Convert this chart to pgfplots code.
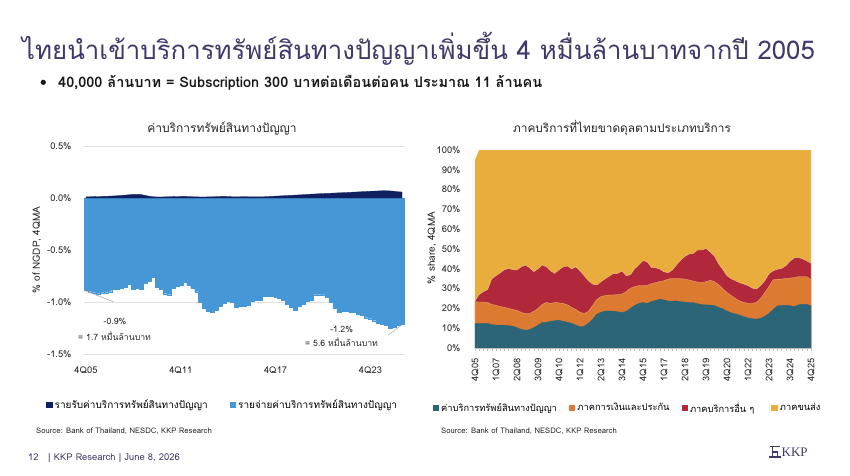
\documentclass[border=0pt]{standalone}
\usepackage{pgfplots}
\pgfplotsset{compat=1.18}
\usepackage{pgfplotstable}
\usepackage{fontspec}
\setmainfont[Script=Thai]{Loma}
\newfontfamily\kkpfont{Liberation Serif}
\definecolor{titlecol}{HTML}{403A68}
\definecolor{navy}{HTML}{0F1F5F}
\definecolor{lblue}{HTML}{4598D5}
\definecolor{cteal}{HTML}{2C6478}
\definecolor{corange}{HTML}{DD7A31}
\definecolor{cred}{HTML}{B0283A}
\definecolor{cyellow}{HTML}{E8AD3D}

\pgfplotstableread{
i pay rec
0 -0.885 0.012
1 -0.90 0.012
2 -0.91 0.013
3 -0.92 0.014
4 -0.91 0.015
5 -0.91 0.016
6 -0.90 0.018
7 -0.88 0.020
8 -0.875 0.022
9 -0.87 0.025
10 -0.86 0.028
11 -0.83 0.032
12 -0.88 0.035
13 -0.87 0.036
14 -0.88 0.033
15 -0.82 0.025
16 -0.80 0.017
17 -0.76 0.012
18 -0.86 0.010
19 -0.88 0.010
20 -0.92 0.011
21 -0.93 0.012
22 -0.87 0.013
23 -0.85 0.014
24 -0.84 0.015
25 -0.81 0.016
26 -0.84 0.014
27 -0.87 0.012
28 -0.90 0.011
29 -1.00 0.010
30 -1.06 0.010
31 -1.09 0.011
32 -1.10 0.012
33 -1.08 0.013
34 -1.04 0.015
35 -1.01 0.016
36 -0.99 0.014
37 -1.00 0.012
38 -1.05 0.011
39 -1.04 0.012
40 -1.04 0.013
41 -1.03 0.012
42 -0.99 0.011
43 -0.98 0.011
44 -0.98 0.012
45 -0.94 0.012
46 -0.94 0.014
47 -0.94 0.016
48 -0.95 0.018
49 -0.96 0.020
50 -0.98 0.022
51 -1.02 0.024
52 -1.05 0.026
53 -1.08 0.028
54 -1.04 0.030
55 -1.02 0.032
56 -0.99 0.035
57 -0.98 0.037
58 -0.93 0.039
59 -0.93 0.041
60 -0.93 0.043
61 -0.95 0.044
62 -1.00 0.046
63 -1.06 0.048
64 -1.10 0.050
65 -1.09 0.051
66 -1.09 0.053
67 -1.10 0.055
68 -1.10 0.057
69 -1.12 0.059
70 -1.13 0.061
71 -1.15 0.063
72 -1.16 0.065
73 -1.18 0.066
74 -1.20 0.068
75 -1.21 0.070
76 -1.22 0.070
77 -1.25 0.068
78 -1.24 0.065
79 -1.22 0.060
80 -1.21 0.058
}\ipdata

\pgfplotstableread{
i teal orange red top
0 12.5 23.4 23.8 95
1 12.5 23.2 27.0 100
2 12.4 23.2 28.5 100
3 12.4 23.0 29.5 100
4 11.8 22.0 35.0 100
5 11.6 21.5 36.5 100
6 11.6 21.0 38.0 100
7 11.5 20.5 39.5 100
8 11.3 20.0 40.2 100
9 11.0 19.5 39.5 100
10 10.3 19.0 39.4 100
11 9.4 18.0 41.0 100
12 9.0 17.3 41.9 100
13 9.3 17.5 40.5 100
14 10.3 18.5 38.6 100
15 11.5 20.0 40.0 100
16 13.0 22.0 41.9 100
17 13.0 23.0 41.0 100
18 13.5 22.5 39.0 100
19 13.8 23.0 37.7 100
20 14.0 22.8 39.5 100
21 13.5 22.5 41.0 100
22 13.0 21.8 41.4 100
23 12.5 20.5 40.0 100
24 11.5 19.5 41.0 100
25 10.8 18.0 39.0 100
26 11.0 17.4 36.5 100
27 12.5 18.5 34.0 100
28 14.5 21.5 32.3 100
29 17.0 24.5 31.8 100
30 18.0 26.0 33.5 100
31 18.7 26.5 35.0 100
32 18.7 26.8 36.3 100
33 18.6 26.8 37.7 100
34 18.3 27.0 37.7 100
35 17.9 27.3 38.9 100
36 18.5 28.5 36.5 100
37 20.0 30.2 37.0 100
38 21.5 31.0 40.0 100
39 22.5 31.5 42.0 100
40 23.0 31.6 44.1 100
41 22.5 31.6 43.5 100
42 23.5 32.5 40.7 100
43 24.0 33.0 40.5 100
44 24.7 33.6 39.9 100
45 24.3 34.0 38.5 100
46 23.7 34.8 38.0 100
47 23.7 35.2 39.4 100
48 23.8 35.2 42.0 100
49 23.4 35.0 44.5 100
50 23.2 34.8 46.3 100
51 23.0 34.3 47.5 100
52 22.9 33.8 47.8 100
53 22.4 33.3 49.5 100
54 21.9 33.1 49.5 100
55 21.8 33.5 50.3 100
56 21.7 34.2 48.5 100
57 21.5 33.5 46.5 100
58 20.5 32.0 42.5 100
59 19.8 30.0 39.7 100
60 18.6 28.0 36.5 100
61 17.8 26.5 35.0 100
62 17.2 25.0 34.0 100
63 16.6 23.8 33.0 100
64 15.9 23.0 32.3 100
65 15.2 22.6 31.5 100
66 14.8 22.6 30.3 100
67 14.6 23.0 29.8 100
68 15.0 25.0 31.5 100
69 16.0 28.0 34.0 100
70 17.5 31.0 37.5 100
71 19.5 34.5 39.0 100
72 21.3 34.8 39.8 100
73 21.5 34.8 40.2 100
74 21.6 35.2 41.5 100
75 21.4 35.3 43.8 100
76 21.0 35.6 45.5 100
77 21.8 36.0 45.8 100
78 22.1 36.0 45.0 100
79 22.0 36.0 44.0 100
80 21.4 34.5 42.8 100
}\shdata

\begin{document}
\begin{tikzpicture}[x=1pt,y=1pt]
\path[fill=white] (0,0) rectangle (850,475);

% Title and bullet
\node[anchor=base west, inner sep=0, text=titlecol, font=\fontsize{25.8}{28}\selectfont] at (22,415) {ไทยนำเข้าบริการทรัพย์สินทางปัญญาเพิ่มขึ้น 4 หมื่นล้านบาทจากปี 2005};
\node[anchor=base west, inner sep=0, text=black!90, font=\fontsize{14.5}{16}\selectfont\bfseries] at (40,388) {•};
\node[anchor=base west, inner sep=0, text=black!90, font=\fontsize{14.5}{16}\selectfont\bfseries] at (58,388) {40,000 ล้านบาท = Subscription 300 บาทต่อเดือนต่อคน ประมาณ 11 ล้านคน};

% chart titles
\node[anchor=base, inner sep=0, text=black!85, font=\fontsize{12}{13}\selectfont] at (222,343) {ค่าบริการทรัพย์สินทางปัญญา};
\node[anchor=base, inner sep=0, text=black!85, font=\fontsize{11.8}{13}\selectfont] at (622,343) {ภาคบริการที่ไทยขาดดุลตามประเภทบริการ};

% y labels
\node[rotate=90, inner sep=0, text=black!85, font=\fontsize{10}{11}\selectfont] at (37,225) {\% of NGDP, 4QMA};
\node[rotate=90, inner sep=0, text=black!85, font=\fontsize{10}{11}\selectfont] at (432,227) {\% share, 4QMA};

% LEFT CHART
\begin{axis}[at={(84pt,121pt)}, anchor=south west, width=320pt, height=208pt, scale only axis,
  xmin=-0.5, xmax=80.5, ymin=-1.5, ymax=0.5,
  ytick={-1.5,-1,-0.5,0,0.5}, yticklabels={-1.5\%,-1.0\%,-0.5\%,0.0\%,0.5\%},
  xtick={0,24,48,72}, xticklabels={4Q05,4Q11,4Q17,4Q23},
  axis line style={draw=none}, major tick length=0pt,
  ymajorgrids, grid style={black!12, line width=0.9pt},
  tick label style={font=\fontsize{9.3}{10}\selectfont, text=black!85},
  yticklabel style={xshift=-9pt}, xticklabel style={yshift=-9pt},
  legend image code/.code={\fill[#1] (0pt,-3.2pt) rectangle (6.5pt,3.3pt);},
  legend style={at={(0.433,-0.245)}, anchor=center, draw=none, fill=none, legend columns=2,
    font=\fontsize{10}{11}\selectfont, /tikz/every even column/.append style={column sep=20pt}},
  clip=false]
\addlegendimage{fill=navy, draw=none}
\addlegendentry{รายรับค่าบริการทรัพย์สินทางปัญญา}
\addlegendimage{fill=lblue, draw=none}
\addlegendentry{รายจ่ายค่าบริการทรัพย์สินทางปัญญา}
\addplot[forget plot, ybar, bar width=1, fill=lblue, draw=lblue, line width=0.2pt] table[x=i, y=pay] {\ipdata};
\addplot[forget plot, fill=navy, draw=navy, line width=0.3pt] table[x=i, y=rec] {\ipdata} \closedcycle;
\end{axis}

% annotations left
\draw[black!35, line width=0.5pt] (85,184.3) -- (113.3,173.3);
\draw[black!35, line width=0.5pt] (388.3,140) -- (401.7,150);
\node[inner sep=0, text=black!85, font=\fontsize{8.7}{10}\selectfont] at (115,154) {-0.9\%};
\node[anchor=west, inner sep=0, text=black!85, font=\fontsize{8.7}{10}\selectfont] at (78,139) {= 1.7 หมื่นล้านบาท};
\node[inner sep=0, text=black!85, font=\fontsize{8.7}{10}\selectfont] at (341.7,146) {-1.2\%};
\node[anchor=west, inner sep=0, text=black!85, font=\fontsize{8.7}{10}\selectfont] at (305,133) {= 5.6 หมื่นล้านบาท};

% RIGHT CHART
\begin{axis}[at={(475pt,127pt)}, anchor=south west, width=336pt, height=198pt, scale only axis,
  xmin=0, xmax=80, ymin=0, ymax=100,
  ytick={0,10,...,100}, yticklabels={0\%,10\%,20\%,30\%,40\%,50\%,60\%,70\%,80\%,90\%,100\%},
  xtick={0,5,...,80}, minor xtick={0,...,80},
  xticklabels={4Q05,1Q07,2Q08,3Q09,4Q10,1Q12,2Q13,3Q14,4Q15,1Q17,2Q18,3Q19,4Q20,1Q22,2Q23,3Q24,4Q25},
  separate axis lines, x axis line style={black!25, line width=0.6pt}, y axis line style={draw=none},
  axis x line*=bottom, axis y line*=left,
  ytick style={draw=none}, xtick style={black!25, line width=0.5pt}, minor tick style={black!25, line width=0.5pt},
  tick align=outside, major tick length=3pt, minor tick length=3pt,
  tick label style={font=\fontsize{9.3}{10}\selectfont, text=black!85},
  yticklabel style={xshift=-8pt}, xticklabel style={rotate=90, anchor=east, xshift=-4pt},
  legend image code/.code={\fill[#1] (0pt,-3.2pt) rectangle (6.5pt,3.3pt);},
  legend style={at={(0.454,-0.303)}, anchor=center, draw=none, fill=none, legend columns=4,
    font=\fontsize{9.3}{11}\selectfont, /tikz/every even column/.append style={column sep=10pt}},
  clip=false, axis on top]
\addlegendimage{fill=cteal, draw=none}
\addlegendentry{ค่าบริการทรัพย์สินทางปัญญา}
\addlegendimage{fill=corange, draw=none}
\addlegendentry{ภาคการเงินและประกัน}
\addlegendimage{fill=cred, draw=none}
\addlegendentry{ภาคบริการอื่น ๆ\kern5pt}
\addlegendimage{fill=cyellow, draw=none}
\addlegendentry{ภาคขนส่ง}
\addplot[forget plot, fill=cyellow, draw=cyellow!60!white, line width=0.4pt] table[x=i, y=top] {\shdata} \closedcycle;
\addplot[forget plot, fill=cred, draw=cyellow!60!white, line width=0.4pt] table[x=i, y=red] {\shdata} \closedcycle;
\addplot[forget plot, fill=corange, draw=corange!60!white, line width=0.3pt] table[x=i, y=orange] {\shdata} \closedcycle;
\addplot[forget plot, fill=cteal, draw=cteal, line width=0.3pt] table[x=i, y=teal] {\shdata} \closedcycle;
\end{axis}

% sources
\node[anchor=base west, inner sep=0, text=black!85, font=\fontsize{7.7}{8}\selectfont] at (36,42) {Source: Bank of Thailand, NESDC, KKP Research};
\node[anchor=base west, inner sep=0, text=black!85, font=\fontsize{7.7}{8}\selectfont] at (441,42) {Source: Bank of Thailand, NESDC, KKP Research};

% footer
\node[anchor=base west, inner sep=0, text=titlecol, font=\fontsize{9.4}{10}\selectfont] at (28,15) {12};
\node[anchor=base west, inner sep=0, text=titlecol, font=\fontsize{9.4}{10}\selectfont] at (48,15) {| KKP Research | June 8, 2026};
% logo
\fill[titlecol] (770,28) rectangle (779.5,29.5);
\fill[titlecol] (771.5,18.5) rectangle (773,28);
\fill[titlecol] (771.5,22.5) rectangle (778,24);
\fill[titlecol] (776.5,18.5) rectangle (778,24);
\fill[titlecol] (769,17.5) rectangle (781,19);
\node[anchor=base west, inner sep=0, text=titlecol, font=\kkpfont\fontsize{13}{14}\selectfont] at (781.5,18.3) {KKP};
\end{tikzpicture}
\end{document}
